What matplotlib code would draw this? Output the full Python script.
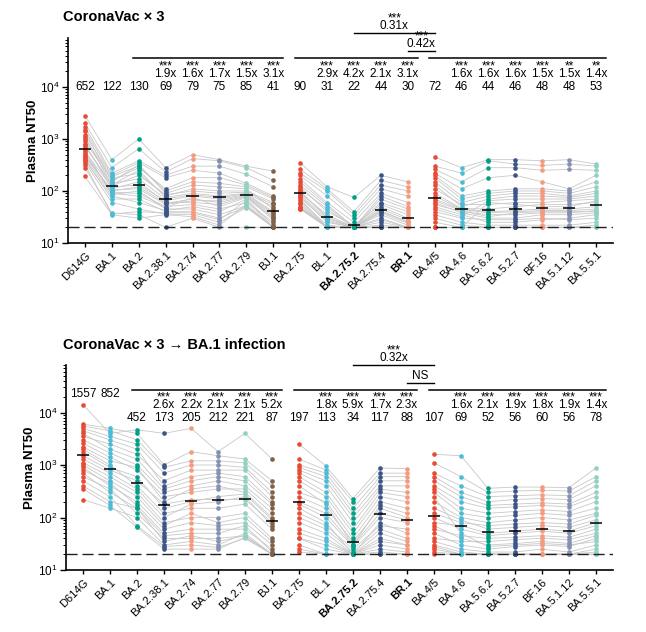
import numpy as np
import matplotlib.pyplot as plt
from matplotlib.ticker import LogLocator, NullFormatter

plt.rcParams['font.family'] = ['Liberation Sans', 'DejaVu Sans']
plt.rcParams['mathtext.fontset'] = 'custom'
plt.rcParams['mathtext.rm'] = 'Liberation Sans'

# Variantes (eje x)
variants = ['D614G', 'BA.1', 'BA.2', 'BA.2.38.1', 'BA.2.74', 'BA.2.77', 'BA.2.79', 'BJ.1',
            'BA.2.75', 'BL.1', 'BA.2.75.2', 'BA.2.75.4', 'BR.1',
            'BA.4/5', 'BA.4.6', 'BA.5.6.2', 'BA.5.2.7', 'BF.16', 'BA.5.1.12', 'BA.5.5.1']
bold_variants = ['BA.2.75.2', 'BR.1']

# grupos unidos por lineas (inicio, fin exclusivo)
groups = [(0, 8), (8, 13), (13, 20)]

npg = {'red': '#E64B35', 'lblue': '#4DBBD5', 'teal': '#00A087', 'navy': '#3C5488',
       'salmon': '#F39B7F', 'lav': '#8491B4', 'mint': '#91D1C2', 'brown': '#7E6148'}
variant_colors = ['red', 'lblue', 'teal', 'navy', 'salmon', 'lav', 'mint', 'brown',
                  'red', 'lblue', 'teal', 'navy', 'salmon',
                  'red', 'lblue', 'teal', 'navy', 'salmon', 'lav', 'mint']

# ---- CoronaVac x 3 ----
vac_gm = [652, 122, 130, 69, 79, 75, 85, 41, 90, 31, 22, 44, 30, 72, 46, 44, 46, 48, 48, 53]
vac_fold = [None, None, None, '1.9x', '1.6x', '1.7x', '1.5x', '3.1x',
            None, '2.9x', '4.2x', '2.1x', '3.1x',
            None, '1.6x', '1.6x', '1.6x', '1.5x', '1.5x', '1.4x']
vac_stars = [None, None, None, '***', '***', '***', '***', '***',
             None, '***', '***', '***', '***',
             None, '***', '***', '***', '***', '**', '**']
vac_titers = [
    [2800, 1400, 2000, 800, 1700, 1100, 600, 1500, 900, 520, 1200, 750, 400, 1000, 480, 700, 350, 560, 450, 280, 420, 380, 320, 190],
    [400, 150, 280, 110, 220, 130, 85, 200, 160, 95, 190, 125, 70, 175, 100, 140, 60, 120, 105, 38, 90, 80, 36, 35],
    [1000, 320, 650, 150, 380, 250, 100, 350, 280, 90, 300, 200, 70, 220, 120, 170, 45, 130, 110, 35, 80, 60, 40, 30],
    [280, 90, 230, 60, 200, 75, 45, 180, 110, 50, 100, 85, 40, 80, 58, 70, 36, 65, 55, 20, 48, 42, 38, 35],
    [500, 130, 420, 60, 300, 90, 45, 250, 180, 55, 150, 100, 40, 110, 70, 85, 35, 80, 65, 30, 75, 50, 38, 32],
    [400, 120, 380, 55, 300, 80, 35, 220, 180, 45, 140, 90, 30, 100, 60, 75, 25, 70, 65, 20, 50, 40, 28, 22],
    [300, 110, 280, 78, 210, 90, 52, 140, 130, 60, 120, 95, 50, 100, 80, 88, 48, 85, 82, 20, 75, 70, 65, 55],
    [240, 45, 160, 30, 120, 50, 20, 80, 75, 25, 70, 55, 20, 60, 32, 40, 20, 38, 35, 20, 28, 22, 20, 20],
    [350, 100, 260, 65, 220, 120, 48, 200, 170, 55, 150, 90, 46, 130, 75, 110, 45, 95, 85, 50, 80, 70, 60, 47],
    [120, 30, 110, 22, 100, 40, 20, 80, 60, 20, 55, 35, 20, 50, 26, 45, 20, 32, 28, 20, 25, 20, 20, 20],
    [75, 20, 40, 20, 35, 22, 20, 30, 25, 20, 20, 20, 20, 20, 20, 20, 20, 20, 20, 20, 20, 20, 20, 20],
    [200, 40, 160, 25, 130, 55, 20, 110, 90, 22, 80, 50, 20, 70, 35, 60, 20, 45, 42, 20, 38, 30, 28, 20],
    [150, 26, 120, 20, 100, 35, 20, 80, 60, 20, 50, 30, 20, 45, 22, 40, 20, 28, 25, 20, 24, 20, 20, 20],
    [450, 90, 300, 40, 260, 110, 25, 220, 200, 35, 180, 80, 20, 150, 55, 130, 20, 70, 65, 30, 60, 50, 45, 20],
    [280, 46, 220, 30, 150, 55, 20, 110, 80, 25, 70, 45, 20, 60, 40, 50, 20, 44, 42, 22, 38, 35, 32, 20],
    [400, 45, 380, 28, 280, 55, 20, 180, 100, 22, 90, 40, 20, 80, 35, 70, 20, 38, 32, 20, 30, 25, 65, 60],
    [400, 50, 330, 28, 280, 60, 20, 200, 110, 22, 100, 42, 20, 90, 35, 80, 20, 40, 38, 20, 30, 25, 70, 55],
    [380, 55, 310, 30, 250, 60, 20, 150, 110, 22, 100, 45, 20, 90, 38, 80, 20, 42, 40, 20, 35, 28, 70, 50],
    [400, 55, 330, 28, 260, 65, 20, 110, 100, 22, 90, 45, 20, 80, 38, 75, 20, 42, 40, 20, 35, 30, 70, 50],
    [330, 60, 300, 30, 250, 70, 22, 200, 150, 25, 120, 50, 20, 100, 42, 90, 20, 45, 40, 20, 38, 35, 80, 65],
]

# ---- CoronaVac x 3 -> BA.1 ----
bti_gm = [1557, 852, 452, 173, 205, 212, 221, 87, 197, 113, 34, 117, 88, 107, 69, 52, 56, 60, 56, 78]
bti_fold = [None, None, None, '2.6x', '2.2x', '2.1x', '2.1x', '5.2x',
            None, '1.8x', '5.9x', '1.7x', '2.3x',
            None, '1.6x', '2.1x', '1.9x', '1.8x', '1.9x', '1.4x']
bti_stars = [None, None, None, '***', '***', '***', '***', '***',
             None, '***', '***', '***', '***',
             None, '***', '***', '***', '***', '***', '***']
bti_titers = [
    [14000, 2000, 6000, 800, 5500, 2600, 500, 5000, 3500, 600, 4500, 1500, 350, 4000, 1100, 3000, 220, 1800, 1300, 400, 1000, 900, 700, 2200],
    [4000, 1000, 5000, 450, 4500, 1400, 250, 3500, 2500, 350, 3000, 800, 170, 2000, 600, 1700, 150, 900, 700, 200, 500, 400, 300, 1200],
    [4700, 400, 4000, 170, 3000, 800, 70, 2500, 1600, 120, 2000, 500, 65, 1300, 300, 1000, 100, 600, 350, 150, 250, 200, 150, 900],
    [4000, 120, 1000, 50, 900, 250, 28, 700, 500, 40, 400, 180, 25, 350, 80, 300, 30, 150, 100, 45, 70, 60, 35, 200],
    [5000, 150, 1800, 60, 1200, 300, 30, 1000, 800, 40, 600, 220, 25, 500, 100, 400, 35, 200, 180, 50, 120, 80, 45, 350],
    [1800, 150, 1500, 60, 1200, 350, 27, 1000, 800, 40, 700, 220, 25, 600, 100, 500, 30, 250, 200, 50, 80, 70, 35, 400],
    [4000, 180, 1300, 60, 1100, 350, 40, 900, 800, 45, 600, 220, 42, 500, 120, 400, 50, 280, 250, 70, 100, 80, 45, 300],
    [1300, 60, 500, 25, 400, 120, 20, 300, 250, 20, 200, 80, 20, 180, 40, 150, 20, 90, 70, 22, 35, 30, 20, 100],
    [2500, 150, 1300, 40, 1000, 300, 22, 900, 800, 30, 700, 200, 25, 600, 100, 500, 50, 250, 180, 60, 120, 80, 40, 400],
    [950, 80, 800, 25, 700, 200, 20, 600, 500, 20, 400, 120, 20, 300, 60, 250, 35, 150, 100, 40, 70, 50, 30, 180],
    [230, 20, 200, 20, 150, 40, 20, 120, 100, 20, 80, 30, 20, 60, 22, 50, 20, 35, 28, 20, 25, 20, 20, 30],
    [880, 80, 700, 22, 600, 200, 20, 500, 400, 25, 350, 120, 20, 300, 60, 250, 30, 150, 100, 35, 70, 50, 40, 170],
    [850, 50, 700, 20, 600, 150, 20, 500, 400, 22, 300, 90, 20, 250, 40, 200, 25, 100, 80, 30, 60, 35, 30, 120],
    [1600, 70, 1100, 25, 700, 150, 20, 600, 500, 28, 400, 100, 22, 350, 50, 300, 30, 120, 80, 35, 60, 40, 200, 250],
    [1500, 40, 600, 20, 400, 90, 20, 300, 250, 20, 200, 60, 20, 150, 30, 120, 22, 80, 70, 25, 45, 35, 100, 50],
    [360, 30, 300, 20, 250, 60, 20, 200, 170, 20, 150, 45, 20, 120, 25, 100, 20, 70, 50, 22, 40, 35, 80, 28],
    [380, 32, 320, 20, 260, 65, 20, 220, 180, 20, 160, 50, 20, 130, 28, 110, 20, 75, 55, 22, 42, 38, 90, 30],
    [380, 35, 330, 20, 270, 70, 20, 230, 190, 20, 170, 55, 20, 140, 30, 120, 20, 80, 60, 25, 45, 40, 100, 32],
    [370, 32, 320, 20, 260, 65, 20, 220, 180, 20, 160, 50, 20, 130, 28, 110, 20, 75, 55, 22, 42, 38, 90, 30],
    [880, 45, 600, 20, 500, 90, 20, 400, 300, 22, 250, 70, 20, 200, 40, 150, 25, 110, 80, 30, 60, 50, 120, 35],
]

LOD = 20
FS = 8.5


def draw_panel(ax, titers, gms, folds, stars, ytop, gm_y, fold_y, brk_y):
    x = np.arange(len(variants))
    # lineas por sujeto dentro de cada grupo
    for g0, g1 in groups:
        for k in range(len(titers[0])):
            ax.plot(x[g0:g1], [titers[i][k] for i in range(g0, g1)],
                    color='#c8c8c8', lw=0.6, zorder=1)
    for i in range(len(variants)):
        ax.scatter(np.full(len(titers[i]), x[i]), titers[i], s=11,
                   color=npg[variant_colors[i]], lw=0, zorder=2)
        ax.hlines(gms[i], x[i] - 0.23, x[i] + 0.23, color='black', lw=1.1, zorder=4)
        yy = gm_y[i] if isinstance(gm_y, list) else gm_y
        ax.text(x[i], yy, str(gms[i]), ha='center', va='center', fontsize=FS)
        if folds[i]:
            # asteriscos encima del cambio (una sola caja de texto)
            ax.text(x[i], fold_y, stars[i] + '\n' + folds[i], ha='center', va='bottom',
                    fontsize=FS, linespacing=0.52, multialignment='center')
    # lineas de grupo
    for g0, g1 in groups:
        if g0 == 0:
            g0 = 2
        ax.plot([g0 - 0.2, g1 - 1 + 0.37], [brk_y, brk_y], color='black', lw=1.1, clip_on=False)

    ax.axhline(LOD, color='#222222', lw=1.0, dashes=(8, 3.5), zorder=5)
    ax.set_yscale('log')
    ax.set_ylim(10, ytop)
    ax.set_xlim(-0.63, 19.63)
    ax.set_xticks(x)
    ax.set_xticklabels(variants, rotation=45, ha='right', rotation_mode='anchor', fontsize=8)
    for lab in ax.get_xticklabels():
        if lab.get_text() in bold_variants:
            lab.set_fontweight('bold')
    ax.yaxis.set_major_locator(LogLocator(base=10, numticks=10))
    ax.yaxis.set_minor_locator(LogLocator(base=10, subs=np.arange(2, 10), numticks=20))
    ax.yaxis.set_minor_formatter(NullFormatter())
    ax.tick_params(axis='y', which='major', length=4, width=1, labelsize=FS, pad=2)
    ax.tick_params(axis='y', which='minor', length=2, width=0.7)
    ax.tick_params(axis='x', length=3, width=1, pad=2)
    for s in ['top', 'right']:
        ax.spines[s].set_visible(False)
    for s in ['left', 'bottom']:
        ax.spines[s].set_linewidth(1.2)
    ax.set_ylabel('Plasma NT50', fontsize=9.5, fontweight='bold')
    ax.yaxis.set_label_coords(-0.054, 0.5)


def upper_bracket(ax, i0, i1, y_line, label, star=None):
    ax.plot([i0, i1], [y_line, y_line], color='black', lw=1.0, clip_on=False)
    txt = label if star is None else star + '\n' + label
    ax.text((i0 + i1) / 2, y_line * 10 ** 0.012, txt, ha='center', va='bottom',
            fontsize=FS, linespacing=0.52, multialignment='center')


fig = plt.figure(figsize=(6.46, 6.32), dpi=100)
ax1 = fig.add_axes([68 / 646, 1 - 243 / 632, 545 / 646, 205 / 632])
ax2 = fig.add_axes([66 / 646, 1 - 570 / 632, 547 / 646, 205 / 632])

draw_panel(ax1, vac_titers, vac_gm, vac_fold, vac_stars, 10 ** 4.94,
           1e4, 10 ** 4.125, 10 ** 4.55)
upper_bracket(ax1, 10, 13, 10 ** 5.04, '0.31x', '***')
upper_bracket(ax1, 12, 13, 10 ** 4.69, '0.42x', '***')

bti_gm_y = [10 ** 4.36, 10 ** 4.36] + [10 ** 3.9] * 18
draw_panel(ax2, bti_titers, bti_gm, bti_fold, bti_stars, 10 ** 4.905,
           bti_gm_y, 10 ** 4.025, 10 ** 4.43)
upper_bracket(ax2, 10, 13, 10 ** 4.91, '0.32x', '***')
upper_bracket(ax2, 12, 13, 10 ** 4.57, 'NS')

fig.text(63 / 646, 1 - 17 / 632, 'CoronaVac × 3', fontsize=10.5, fontweight='bold', va='center')
fig.text(63 / 646, 1 - 345 / 632, 'CoronaVac × 3 → BA.1 infection', fontsize=10.5,
         fontweight='bold', va='center')

fig.savefig('out.png', dpi=100)
